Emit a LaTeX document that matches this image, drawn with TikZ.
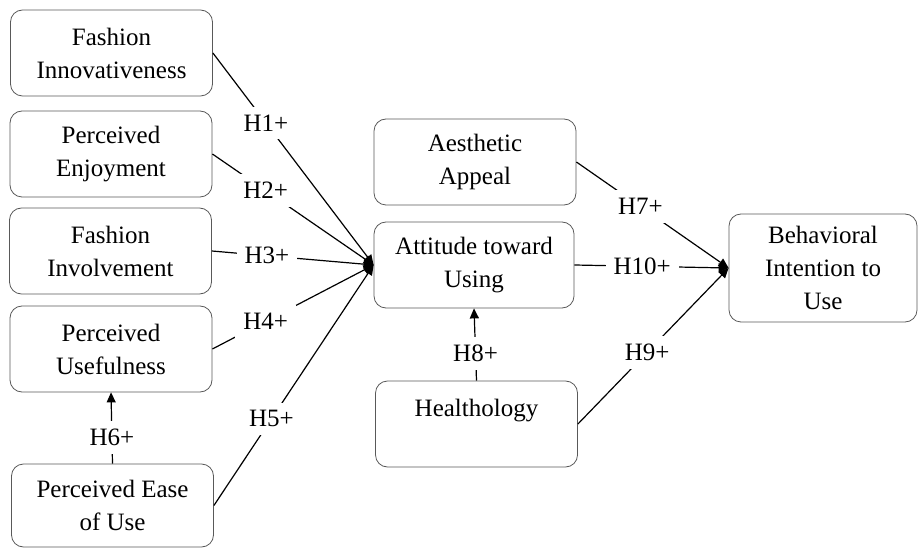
\documentclass[tikz,border=0pt]{standalone}
\usepackage{fontspec}
\setmainfont{Liberation Serif}
\usetikzlibrary{arrows.meta}
\begin{document}
\begin{tikzpicture}[x=0.5pt,y=-0.5pt,
    box/.style={draw=black!65,rounded corners=6pt,align=center,
      minimum width=101pt,minimum height=43pt,inner sep=2pt,
      font=\fontsize{12.5}{16.5}\selectfont},
    hyp/.style={fill=white,inner sep=4pt,font=\fontsize{12.5}{15}\selectfont},
    link/.style={line width=0.6pt,-{Triangle[length=5pt,width=4.5pt]}}]
  \useasboundingbox (0,0) rectangle (919,550);
  \draw
    (111.5,53) node[box] (fi){Fashion\\Innovativeness}
    (111,154) node[box] (pe){Perceived\\Enjoyment}
    (110.5,251) node[box] (fv){Fashion\\Involvement}
    (111,349) node[box] (pu){Perceived\\Usefulness}
    (112.5,505.5) node[box,minimum height=41.5pt] (peu){Perceived Ease\\of Use}
    (475,162) node[box] (aa){Aesthetic\\Appeal}
    (474,265) node[box,minimum width=100pt] (atu){Attitude toward\\Using}
    (476.5,424) node[box] (hl){Healthology\\~}
    (823,268) node[box,minimum width=94pt,minimum height=54pt] (bi){Behavioral\\Intention to\\Use};
  \begin{scope}[link]
    \draw (fi.east) to node[hyp,pos=0.33] (h1){H1+} (atu.west);
    \draw (pe.east) to node[hyp,pos=0.33] (h2){H2+} (atu.west);
    \draw (fv.east) to node[hyp,pos=0.34] (h3){H3+} (atu.west);
    \draw (pu.east) to node[hyp,pos=0.33] (h4){H4+} (atu.west);
    \draw (peu.east) to node[hyp,pos=0.36] (h5){H5+} (atu.west);
    \draw (peu.north) to node[hyp,pos=0.37] (h6){H6+} (pu.south);
    \draw (aa.east) to node[hyp,pos=0.42] (h7){H7+} (bi.west);
    \draw (hl.north) to node[hyp,pos=0.38] (h8){H8+} (atu.south);
    \draw (hl.east) to node[hyp,pos=0.46] (h9){H9+} (bi.west);
    \draw (atu.east) to node[hyp,pos=0.44] (h10){H10+} (bi.west);
  \end{scope}
\end{tikzpicture}
\end{document}
